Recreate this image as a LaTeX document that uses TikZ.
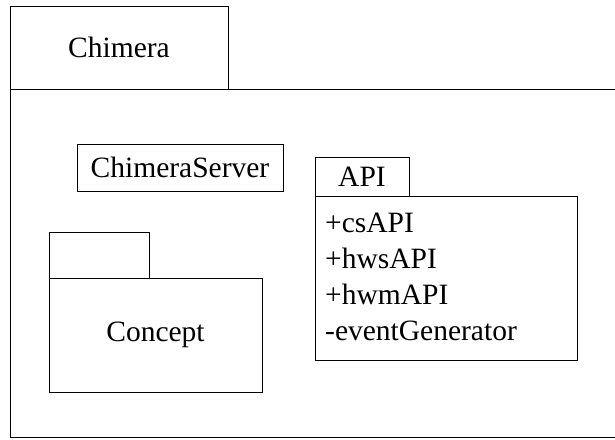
\documentclass[tikz,border=0pt]{standalone}
\usepackage{fontspec}
\setmainfont{Liberation Serif}
\begin{document}
\tikzset{
  pkg/.style={draw=black, line width=1pt, inner sep=0pt, font=\fontsize{29.5}{36}\selectfont},
  attr/.style={inner sep=0pt, anchor=base west, font=\fontsize{29.5}{36}\selectfont}
}
\begin{tikzpicture}[x=1pt,y=-1pt]
\useasboundingbox (0,0) rectangle (615,439);
% outer package Chimera
\node[pkg, minimum width=620, minimum height=348, anchor=north west] (chbody) at (10,89) {};
\node[pkg, minimum width=218, minimum height=83] (chtab) at (119,47.5) {Chimera};
% ChimeraServer
\node[pkg, minimum width=206, minimum height=47] (server) at (180,167.5) {ChimeraServer};
% API package
\node[pkg, minimum width=94, minimum height=39] (apitab) at (362,176.5) {API};
\node[pkg, minimum width=262, minimum height=164, anchor=north west] (apibody) at (315,196) {};
\node[attr] (a1) at (325,232) {+csAPI};
\node[attr] (a2) at (325,268) {+hwsAPI};
\node[attr] (a3) at (325,304) {+hwmAPI};
\node[attr] (a4) at (325,340) {-eventGenerator};
% Concept package
\node[pkg, minimum width=100, minimum height=46] (contab) at (99,255) {};
\node[pkg, minimum width=213, minimum height=114] (conbody) at (155.5,335) {Concept};
\end{tikzpicture}
\end{document}
